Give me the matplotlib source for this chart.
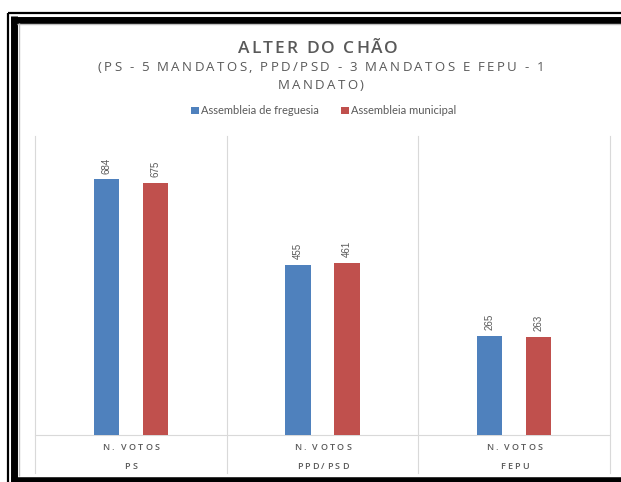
import matplotlib
matplotlib.use("Agg")
import matplotlib.pyplot as plt
import numpy as np
from matplotlib.lines import Line2D
from matplotlib.patches import Patch
from matplotlib import font_manager
from matplotlib.ft2font import FT2Font
import matplotlib.transforms as mtransforms

parties = ["PS", "PPD/PSD", "FEPU"]
sub_label = "N. VOTOS"
series_names = ["Assembleia de freguesia", "Assembleia municipal"]
freguesia = [684, 455, 265]
municipal = [675, 461, 263]
title = "ALTER DO CHÃO"
subtitle_lines = ["(PS - 5 MANDATOS, PPD/PSD - 3 MANDATOS E FEPU - 1", "MANDATO)"]

W, H = 621, 482
DPI = 100
fig = plt.figure(figsize=(W / DPI, H / DPI), dpi=DPI)
fig.patch.set_facecolor("white")

def fx(px):
    return px / W

def fy(py):
    return 1 - py / H

blue = "#4F81BD"
red = "#C0504D"
grid_c = "#D9D9D9"
txt_c = "#595959"

_font_cache = {}

def advances(s, family, size, weight="normal"):
    key = (family, weight)
    if key not in _font_cache:
        fp = font_manager.FontProperties(family=family, weight=weight)
        _font_cache[key] = FT2Font(font_manager.findfont(fp))
    f = _font_cache[key]
    f.set_size(size, DPI)
    out = []
    for ch in s:
        g = f.load_char(ord(ch))
        out.append(g.linearHoriAdvance / 65536.0)
    return out

def tracked(xc_px, ybase_px, s, family, size, track_px, color, weight="normal"):
    adv = advances(s, family, size, weight)
    total = sum(adv) + track_px * (len(s) - 1)
    x = xc_px - total / 2
    for ch, a in zip(s, adv):
        if ch != " ":
            fig.text(fx(x), fy(ybase_px), ch, ha="left", va="baseline",
                     fontsize=size, color=color, family=family, fontweight=weight)
        x += a + track_px

ax = fig.add_axes([fx(35), fy(435), fx(610) - fx(35), fy(136) - fy(435)])

x = np.arange(len(parties))
bw = 0.133
off = 0.128
b1 = ax.bar(x - off, freguesia, bw, color=blue, zorder=3)
b2 = ax.bar(x + off, municipal, bw, color=red, zorder=3)
ax.set_xlim(-0.5, len(parties) - 0.5)
ax.set_ylim(0, 800)
for s in ax.spines.values():
    s.set_visible(False)
ax.set_xticks([])
ax.set_yticks([])

for bars, vals in ((b1, freguesia), (b2, municipal)):
    for r, v in zip(bars, vals):
        ax.annotate(str(v), (r.get_x() + r.get_width() / 2, v),
                    xytext=(0, 4), textcoords="offset points",
                    rotation=90, ha="center", va="bottom",
                    fontsize=7, color=txt_c, family="Liberation Sans")

trans = mtransforms.blended_transform_factory(ax.transData, ax.transAxes)
ax_h = 435 - 136
bottom_frac = -(473 - 435) / ax_h
for b in np.arange(-0.5, len(parties), 1.0):
    ax.add_line(Line2D([b, b], [bottom_frac, 1], transform=trans,
                       color=grid_c, lw=0.8, clip_on=False, zorder=1))
ax.add_line(Line2D([-0.5, len(parties) - 0.5], [0, 0], transform=trans,
                   color=grid_c, lw=0.8, clip_on=False, zorder=2))

# category labels (two levels), letter-spaced
fig.canvas.draw()
for i, p in enumerate(parties):
    xc = ax.transData.transform((i, 0))[0]
    tracked(xc, 450, sub_label, "Open Sans", 6.5, 2.2, txt_c, "semibold")
    tracked(xc, 469, p, "Open Sans", 6.5, 2.2, txt_c, "semibold")

tracked(318, 53, title, "Open Sans", 12.5, 2.0, txt_c, "semibold")
tracked(321, 71, subtitle_lines[0], "Open Sans", 9.5, 2.3, txt_c)
tracked(321, 89, subtitle_lines[1], "Open Sans", 9.5, 2.3, txt_c)

handles = [Patch(facecolor=blue), Patch(facecolor=red)]
fig.legend(handles, series_names, loc="center", bbox_to_anchor=(fx(324), fy(111)),
           ncol=2, frameon=False, prop={"family": "Lato", "size": 8},
           handlelength=0.65, handleheight=0.65, handletextpad=0.25, columnspacing=2.0,
           labelcolor=txt_c)

# decorative frame
def fline(xs, ys, lw, color="black"):
    fig.add_artist(Line2D([fx(v) for v in xs], [fy(v) for v in ys], lw=lw,
                          color=color, solid_capstyle="butt", transform=fig.transFigure))

fline([8, 8], [12.5, 482], 1.6)
fline([7.5, 621], [12.8, 12.8], 1.6)
fline([14, 14], [16, 482], 5.0)
fline([11, 621], [19.5, 19.5], 5.0)
fline([11, 621], [479.5, 479.5], 4.0)
fline([18.5, 18.5], [23, 476], 1.0, "#BFBFBF")
fline([17, 621], [24, 24], 1.0, "#BFBFBF")

fig.savefig("out.png", dpi=DPI)
